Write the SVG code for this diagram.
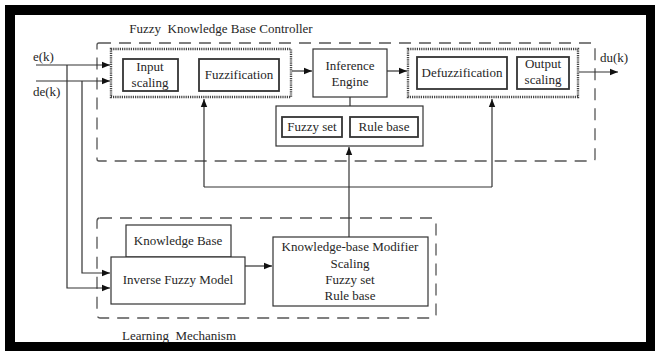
<svg xmlns="http://www.w3.org/2000/svg" width="655" height="351" viewBox="0 0 655 351">
<style>
text{font-family:"Liberation Serif","DejaVu Serif",serif;font-size:13px;fill:#262626;text-anchor:middle}
.lbl{text-anchor:start}
.box{fill:#fff;stroke:#333;stroke-width:1.2}
.inner{fill:#fff;stroke:#333;stroke-width:1.8}
.dot{fill:none;stroke:#444;stroke-width:2.4;stroke-dasharray:1.2 1}
.dash{fill:none;stroke:#555;stroke-width:1.3;stroke-dasharray:12 8}
.ln{fill:none;stroke:#333;stroke-width:1.2}
</style>
<defs>
<marker id="ar" viewBox="0 0 10 10" refX="10" refY="5" markerWidth="8" markerHeight="8" markerUnits="userSpaceOnUse" orient="auto">
<path d="M0,1 L10,5 L0,9 z" fill="#111"/>
</marker>
</defs>
<rect x="0" y="0" width="655" height="351" fill="#fff"/>
<rect x="10" y="10" width="645" height="341" fill="none" stroke="#000" stroke-width="10"/>
<rect x="646" y="5" width="9" height="346" fill="#000"/>
<rect x="5" y="342" width="650" height="9" fill="#000"/>

<g id="controller">
<rect class="dash" x="97" y="43" width="498" height="118" rx="2"/>
<text x="221" y="33" font-size="13.5" xml:space="preserve">Fuzzy  Knowledge Base Controller</text>
</g>
<g id="learning">
<rect class="dash" x="97" y="218" width="339" height="100" rx="3"/>
<text x="179" y="340" xml:space="preserve">Learning  Mechanism</text>
</g>

<g id="connectors">
<path class="ln" d="M36,65 H110" marker-end="url(#ar)"/>
<path class="ln" d="M36,81 H110" marker-end="url(#ar)"/>
<path class="ln" d="M67,65 V288 H110" marker-end="url(#ar)"/>
<path class="ln" d="M82,81 V273 H110" marker-end="url(#ar)"/>
<path class="ln" d="M292,71 H312" marker-end="url(#ar)"/>
<path class="ln" d="M387,71 H407" marker-end="url(#ar)"/>
<path class="ln" d="M579,72 H618" marker-end="url(#ar)"/>
<path class="ln" d="M350,97 V106"/>
<path class="ln" d="M349,237 V147" marker-end="url(#ar)"/>
<path class="ln" d="M204,187 H492"/>
<path class="ln" d="M204,187 V99" marker-end="url(#ar)"/>
<path class="ln" d="M492,187 V99" marker-end="url(#ar)"/>
<path class="ln" d="M245,266 H272" marker-end="url(#ar)"/>
</g>

<g id="inputs">
<text class="lbl" x="33" y="61">e(k)</text>
<text class="lbl" x="33" y="96">de(k)</text>
<text class="lbl" x="600" y="62">du(k)</text>
</g>

<g id="fuzzifier">
<rect class="dot" x="111" y="49" width="180" height="48"/>
</g>
<g id="input-scaling">
<rect class="inner" x="123" y="59" width="55" height="32"/>
<text x="150" y="71">Input</text>
<text x="150" y="87">scaling</text>
</g>
<g id="fuzzification">
<rect class="inner" x="199" y="59" width="80" height="32"/>
<text x="239" y="79">Fuzzification</text>
</g>
<g id="inference">
<rect class="box" x="313" y="49" width="74" height="48"/>
<text x="350" y="70">Inference</text>
<text x="350" y="86">Engine</text>
</g>
<g id="defuzzifier">
<rect class="dot" x="408" y="49" width="170" height="48"/>
</g>
<g id="defuzzification">
<rect class="inner" x="417" y="57" width="90" height="32"/>
<text x="462" y="77">Defuzzification</text>
</g>
<g id="output-scaling">
<rect class="inner" x="517" y="57" width="52" height="32"/>
<text x="543" y="68">Output</text>
<text x="543" y="84">scaling</text>
</g>
<g id="rulebase-container">
<rect class="box" x="276" y="106" width="147" height="40"/>
</g>
<g id="fuzzy-set">
<rect class="inner" x="282" y="117" width="60" height="20"/>
<text x="312" y="131">Fuzzy set</text>
</g>
<g id="rule-base">
<rect class="inner" x="350" y="117" width="68" height="20"/>
<text x="384" y="131">Rule base</text>
</g>

<g id="knowledge-base">
<rect class="box" x="126" y="225" width="105" height="32"/>
<text x="178" y="245">Knowledge Base</text>
</g>
<g id="inverse-model">
<rect class="box" x="111" y="257" width="134" height="47"/>
<text x="178" y="284">Inverse Fuzzy Model</text>
</g>
<g id="modifier">
<rect class="box" x="273" y="237" width="155" height="69"/>
<text x="350" y="251">Knowledge-base Modifier</text>
<text x="350" y="268">Scaling</text>
<text x="350" y="284">Fuzzy set</text>
<text x="350" y="300">Rule base</text>
</g>
</svg>
